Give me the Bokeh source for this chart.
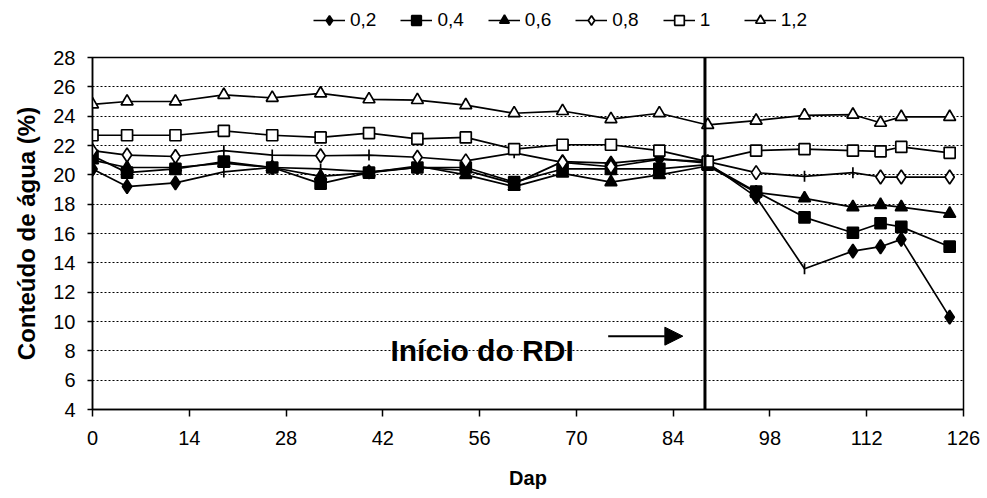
from bokeh.plotting import figure
from bokeh.layouts import column
from bokeh.models import (Range1d, Span, Arrow, NormalHead, Legend, LegendItem,
                          Label, FixedTicker)
from bokeh.embed import file_html
from bokeh.resources import INLINE

# ---- data ----
days = [0, 5, 12, 19, 26, 33, 40, 47, 54, 61, 68, 75, 82, 89, 96, 103, 110, 114, 117, 124]
s02 = [20.4, 19.2, 19.45, 20.2, 20.5, 20.4, 20.2, 20.5, 20.3, 19.4, 20.9, 20.8, 21.1, 20.8, 18.5, 13.6, 14.8, 15.1, 15.6, 10.3]
s04 = [21.3, 20.15, 20.4, 20.9, 20.5, 19.4, 20.15, 20.5, 20.5, 19.5, 20.4, 20.4, 20.4, 20.7, 18.85, 17.1, 16.05, 16.7, 16.45, 15.1]
s06 = [21.0, 20.5, 20.5, 20.8, 20.5, 19.9, 20.15, 20.6, 20.0, 19.2, 20.1, 19.5, 20.0, 20.6, 18.8, 18.4, 17.8, 17.95, 17.8, 17.35]
s08 = [21.65, 21.35, 21.25, 21.65, 21.35, 21.3, 21.35, 21.2, 20.95, 21.5, 20.85, 20.55, 21.05, 20.9, 20.15, 19.9, 20.15, 19.85, 19.85, 19.85]
s10 = [22.7, 22.7, 22.7, 23.0, 22.7, 22.55, 22.85, 22.45, 22.55, 21.75, 22.05, 22.05, 21.65, 20.9, 21.65, 21.75, 21.65, 21.6, 21.9, 21.5]
s12 = [24.8, 25.0, 25.0, 25.45, 25.25, 25.55, 25.15, 25.1, 24.75, 24.2, 24.35, 23.8, 24.2, 23.4, 23.7, 24.05, 24.1, 23.55, 23.95, 23.95]
labels = ["0,2", "0,4", "0,6", "0,8", "1", "1,2"]
# points drawn with a plain "+" tick instead of the series marker
plus_days = {"0,2": [19, 33, 103], "0,8": [19, 26, 40, 61, 82, 103, 110]}
x_ticks = [0, 14, 28, 42, 56, 70, 84, 98, 112, 126]
y_ticks = [4, 6, 8, 10, 12, 14, 16, 18, 20, 22, 24, 26, 28]
rdi_day = 88.6

FONT = "Liberation Sans"
LEG_H = 40

series = [s02, s04, s06, s08, s10, s12]
markers = ["diamond", "square", "triangle", "diamond", "square", "triangle"]
fills = ["black", "black", "black", "white", "white", "white"]
sizes = [14, 11, 12, 14, 11, 12]

# ---------------- main chart ----------------
p = figure(width=987, height=498 - LEG_H, output_backend="svg", toolbar_location=None,
           x_range=Range1d(0, 126), y_range=Range1d(4, 28),
           min_border_left=92, min_border_right=24, min_border_top=57 - LEG_H,
           min_border_bottom=89)
p.background_fill_color = "white"
p.border_fill_color = "white"
p.outline_line_color = "black"
p.outline_line_width = 1.5

p.xgrid.visible = False
p.ygrid.ticker = FixedTicker(ticks=y_ticks[1:-1])
p.ygrid.grid_line_color = "black"
p.ygrid.grid_line_dash = "2 2"
p.ygrid.grid_line_width = 1

p.xaxis.ticker = FixedTicker(ticks=x_ticks)
p.yaxis.ticker = FixedTicker(ticks=y_ticks)
for ax in (p.xaxis, p.yaxis):
    ax.axis_line_color = "black"
    ax.axis_line_width = 1.5
    ax.major_tick_line_color = "black"
    ax.major_tick_line_width = 1.5
    ax.minor_tick_line_color = None
    ax.major_tick_in = 0
    ax.major_label_text_font = FONT
    ax.major_label_text_font_size = "20px"
    ax.major_label_text_color = "black"
    ax.axis_label_text_font = FONT
    ax.axis_label_text_font_style = "bold"
    ax.axis_label_text_color = "black"
p.xaxis.major_tick_out = 7
p.yaxis.major_tick_out = 5
p.xaxis.major_label_standoff = 14
p.yaxis.major_label_standoff = 12
p.xaxis.axis_label = "Dap"
p.xaxis.axis_label_text_font_size = "20px"
p.xaxis.axis_label_standoff = 19
p.yaxis.axis_label = "Conteúdo de água (%)"
p.yaxis.axis_label_text_font_size = "24px"
p.yaxis.axis_label_standoff = 10

for lab, ys, mk, fc, sz in zip(labels, series, markers, fills, sizes):
    p.line(days, ys, line_color="black", line_width=1.7)
    pl = plus_days.get(lab, [])
    mx = [d for d in days if d not in pl]
    my = [y for d, y in zip(days, ys) if d not in pl]
    p.scatter(mx, my, marker=mk, size=sz, fill_color=fc, line_color="black", line_width=1.7)
    if pl:
        px = [d for d in days if d in pl]
        py = [y for d, y in zip(days, ys) if d in pl]
        p.scatter(px, py, marker="dash", angle=1.5708, size=11, line_color="black", line_width=1.7)

p.add_layout(Span(location=rdi_day, dimension="height", line_color="black", line_width=3))
p.add_layout(Arrow(end=NormalHead(size=18, fill_color="black", line_color="black"),
                   x_start=74.6, y_start=9.0, x_end=85.4, y_end=9.0,
                   line_color="black", line_width=2))
p.add_layout(Label(x=43.1, y=8.04, text="Início do RDI", text_font=FONT,
                   text_font_style="bold", text_font_size="30px", text_color="black",
                   text_baseline="alphabetic"))

# ---------------- legend strip on top ----------------
lg = figure(width=987, height=LEG_H, output_backend="svg", toolbar_location=None,
            x_range=Range1d(0, 1), y_range=Range1d(0, 1), min_border=0)
lg.axis.visible = False
lg.grid.visible = False
lg.outline_line_color = None
lg.background_fill_color = "white"
lg.border_fill_color = "white"
items = []
for lab, mk, fc, sz in zip(labels, markers, fills, sizes):
    lr = lg.line([-5, -4], [-5, -4], line_color="black", line_width=1.7)
    mr = lg.scatter([-5], [-5], marker=mk, size=sz, fill_color=fc, line_color="black", line_width=1.7)
    items.append(LegendItem(label=lab, renderers=[lr, mr]))
legend = Legend(items=items, orientation="horizontal", location=(221, 8),
                label_text_font=FONT, label_text_font_size="19px", label_text_color="black",
                glyph_width=32, glyph_height=24, spacing=24, label_standoff=5,
                border_line_color=None, background_fill_alpha=0, padding=2, margin=0)
lg.add_layout(legend, "center")

layout = column(lg, p, spacing=0)
open("out.html", "w").write(file_html(layout, INLINE))
